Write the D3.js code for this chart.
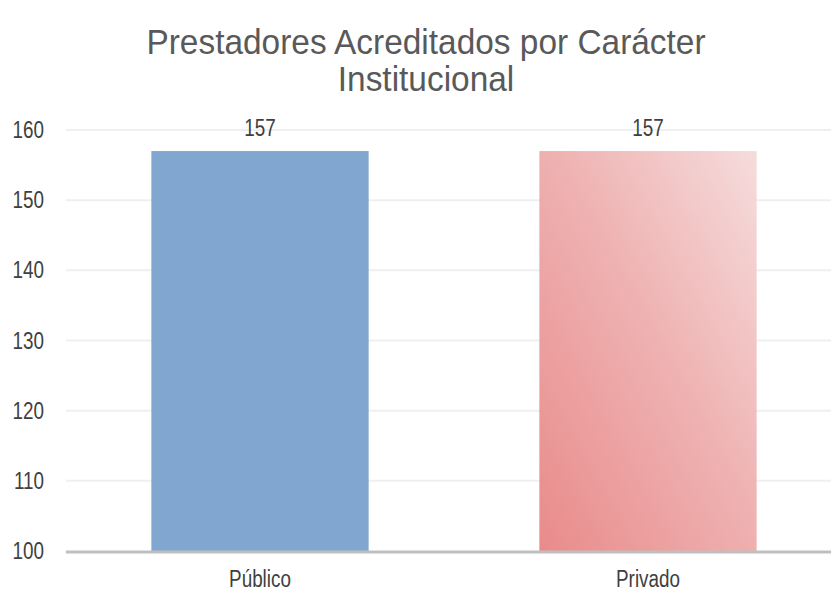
<!DOCTYPE html>
<html>
<head>
<meta charset="utf-8">
<script src="https://cdn.jsdelivr.net/npm/d3@7"></script>
<style>
  body { margin: 0; background: #fff; }
  svg text { font-family: "Liberation Sans", Arial, sans-serif; fill: #404040; }
</style>
</head>
<body>
<svg id="chart" width="831" height="591"></svg>
<script>
const categories = ['Público', 'Privado'];
const values = [157, 157];
const yTicks = [100, 110, 120, 130, 140, 150, 160];
const titleLines = ['Prestadores Acreditados por Carácter', 'Institucional'];

const svg = d3.select('#chart');
const plotTop = 130;
const plotBottom = 551;
const narrow = 0.82; // squeeze the label text, the original uses a narrow face

const defs = svg.append('defs');
const grad = defs.append('linearGradient')
  .attr('id', 'pinkGrad')
  .attr('x1', '0%').attr('y1', '100%')
  .attr('x2', '100%').attr('y2', '0%');
grad.append('stop').attr('offset', '0%').attr('stop-color', '#e98b8b');
grad.append('stop').attr('offset', '55%').attr('stop-color', '#efb3b3');
grad.append('stop').attr('offset', '100%').attr('stop-color', '#f6dcdc');

const x = d3.scaleBand().domain(categories).range([66, 842]).paddingInner(0.44).paddingOuter(0.22);
const y = d3.scaleLinear().domain([100, 160]).range([plotBottom, plotTop]);

// title
svg.append('g').selectAll('text')
  .data(titleLines)
  .enter()
  .append('text')
  .attr('transform', (d, i) => `translate(426,${54 + i * 37}) scale(0.955,1)`)
  .attr('text-anchor', 'middle')
  .style('font-size', '35px')
  .style('fill', '#595959')
  .text(d => d);

// grid
svg.append('g')
  .selectAll('line')
  .data(yTicks.filter(t => t > 100))
  .enter()
  .append('line')
  .attr('x1', 66).attr('x2', 831)
  .attr('y1', d => y(d)).attr('y2', d => y(d))
  .attr('stroke', '#efefef')
  .attr('stroke-width', 2);

// y labels
svg.append('g')
  .selectAll('text')
  .data(yTicks)
  .enter()
  .append('text')
  .attr('transform', d => `translate(44,${y(d) + 8}) scale(${narrow},1)`)
  .attr('text-anchor', 'end')
  .style('font-size', '23px')
  .text(d => d);

// bars
svg.append('g')
  .selectAll('rect')
  .data(values)
  .enter()
  .append('rect')
  .attr('x', (d, i) => x(categories[i]))
  .attr('y', d => y(d))
  .attr('width', x.bandwidth())
  .attr('height', d => plotBottom - y(d))
  .attr('fill', (d, i) => i === 0 ? '#81a6cf' : 'url(#pinkGrad)');

// value labels
svg.append('g')
  .selectAll('text')
  .data(values)
  .enter()
  .append('text')
  .attr('transform', (d, i) => `translate(${x(categories[i]) + x.bandwidth() / 2},${y(d) - 15}) scale(${narrow},1)`)
  .attr('text-anchor', 'middle')
  .style('font-size', '23px')
  .text(d => d);

// axis line
svg.append('line')
  .attr('x1', 66).attr('x2', 831)
  .attr('y1', plotBottom + 1).attr('y2', plotBottom + 1)
  .attr('stroke', '#bfbfbf')
  .attr('stroke-width', 3);

// category labels
svg.append('g')
  .selectAll('text')
  .data(categories)
  .enter()
  .append('text')
  .attr('transform', d => `translate(${x(d) + x.bandwidth() / 2},587) scale(${narrow},1)`)
  .attr('text-anchor', 'middle')
  .style('font-size', '23px')
  .text(d => d);
</script>
</body>
</html>
